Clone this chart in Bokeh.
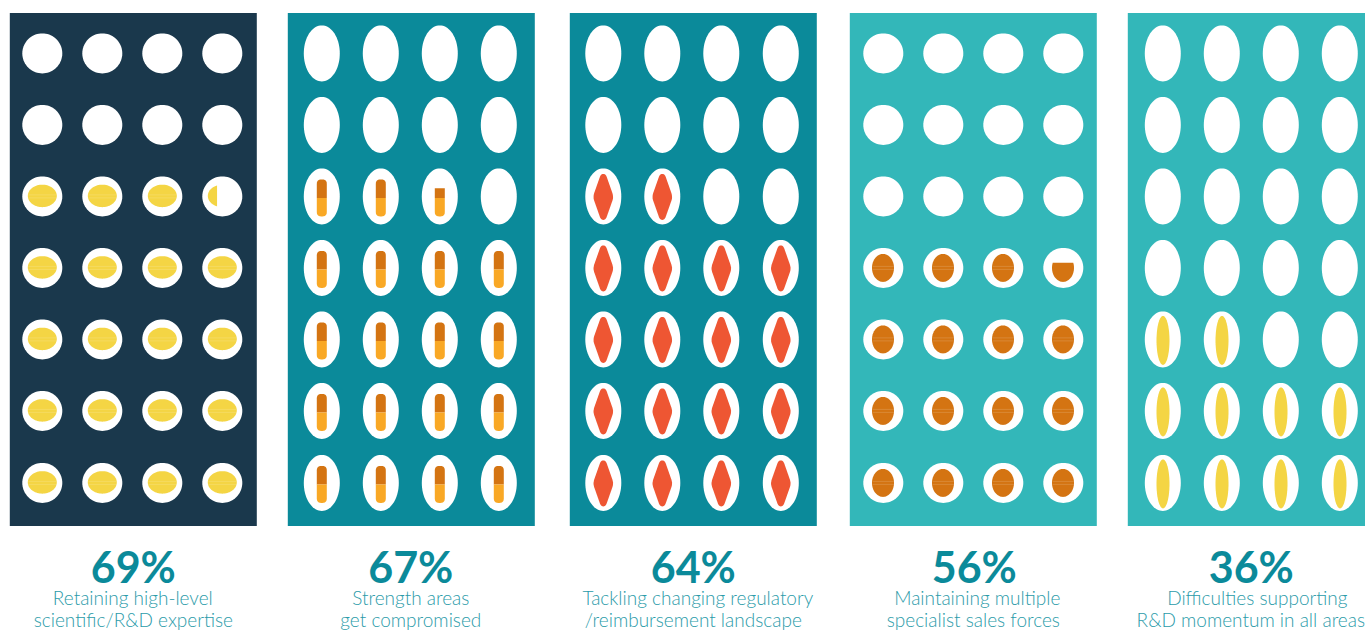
import math
from bokeh.core.properties import value
from bokeh.embed import file_html
from bokeh.models import ColumnDataSource, Range1d
from bokeh.plotting import figure
from bokeh.resources import INLINE

# Survey results, one panel per challenge
percentages = [69, 67, 64, 56, 36]
headlines = ["69%", "67%", "64%", "56%", "36%"]
captions = [
    ["Retaining high-level", "scientific/R&D expertise"],
    ["Strength areas", "get compromised"],
    ["Tackling changing regulatory", "/reimbursement landscape"],
    ["Maintaining multiple", "specialist sales forces"],
    ["Difficulties supporting", "R&D momentum in all areas"],
]
panel_colors = ["#1A384C", "#0B8A9A", "#0B8A9A", "#33B7B9", "#33B7B9"]
icon_kinds = ["wide_oval", "capsule", "diamond", "egg", "slim_oval"]
cut_sides = ["keep_left", "keep_bottom", "keep_bottom", "keep_bottom", "keep_bottom"]

WIDTH, HEIGHT = 1365, 630
ROWS, COLS = 7, 4
PANEL_LEFT = [10, 288, 570, 850, 1128]
PANEL_W, PANEL_TOP, PANEL_BOTTOM = 247, 13, 526
COL_X = [
    [42.5, 102.5, 162.5, 222.5],
    [322, 381, 440, 499],
    [603.5, 662.5, 721.5, 781],
    [883.5, 943.5, 1003.5, 1063.5],
    [1163, 1222, 1281, 1340],
]
ROW_Y = [53.5, 125, 196.5, 268, 339.5, 411, 483]
HEADLINE_X = [133.5, 411, 693.5, 974.5, 1251.5]
CAPTION_X = [
    [133, 411, 698, 977.5, 1257.5],
    [133.5, 411, 693.5, 973.5, 1251],
]

YELLOW, DARK_ORANGE, LIGHT_ORANGE, RED = "#F4D544", "#D47412", "#F9A825", "#EE5633"


def ellipse(cx, cy, w, h, n=72):
    return [(cx + w / 2 * math.cos(2 * math.pi * i / n),
             cy + h / 2 * math.sin(2 * math.pi * i / n)) for i in range(n)]


def rounded(points, r, steps=6):
    """Round each polygon corner with a quadratic curve of reach r."""
    out = []
    n = len(points)
    for i, (x, y) in enumerate(points):
        ax, ay = points[i - 1]
        bx, by = points[(i + 1) % n]
        la, lb = math.hypot(ax - x, ay - y), math.hypot(bx - x, by - y)
        ra, rb = min(r, la / 2), min(r, lb / 2)
        p0 = (x + (ax - x) * ra / la, y + (ay - y) * ra / la)
        p2 = (x + (bx - x) * rb / lb, y + (by - y) * rb / lb)
        for s in range(steps + 1):
            t = s / steps
            out.append(((1 - t) ** 2 * p0[0] + 2 * t * (1 - t) * x + t * t * p2[0],
                        (1 - t) ** 2 * p0[1] + 2 * t * (1 - t) * y + t * t * p2[1]))
    return out


def clip(poly, axis, limit, keep_below):
    """Clip a polygon against one axis-aligned half-plane."""
    inside = (lambda p: p[axis] <= limit) if keep_below else (lambda p: p[axis] >= limit)
    out = []
    for i, cur in enumerate(poly):
        prev = poly[i - 1]
        if inside(cur) != inside(prev):
            t = (limit - prev[axis]) / (cur[axis] - prev[axis])
            out.append((prev[0] + t * (cur[0] - prev[0]), prev[1] + t * (cur[1] - prev[1])))
        if inside(cur):
            out.append(cur)
    return out


def cut(poly, side, frac):
    xs, ys = [p[0] for p in poly], [p[1] for p in poly]
    if side == "keep_left":
        return clip(poly, 0, min(xs) + frac * (max(xs) - min(xs)), True)
    return clip(poly, 1, max(ys) - frac * (max(ys) - min(ys)), False)


def filled_cells(pct):
    """Cells covered out of the grid, with near-whole results shown as whole."""
    cells = pct / 100 * ROWS * COLS
    return round(cells) if abs(cells - round(cells)) < 0.1 else cells


def icon_parts(kind, cx, cy, side, frac):
    """Return (polygon, colour) pieces for the inner icon of one cell."""
    parts = []
    if kind == "wide_oval":
        parts.append((ellipse(cx, cy - 0.5, 29, 22.5), YELLOW))
    elif kind == "egg":
        parts.append((ellipse(cx - 0.3, cy, 22, 28), DARK_ORANGE))
    elif kind == "slim_oval":
        parts.append((ellipse(cx + 0.2, cy + 1, 13, 49), YELLOW))
    elif kind == "diamond":
        blunt = [(cx - 2.4, cy - 22.5), (cx + 2.4, cy - 22.5), (cx + 10.4, cy + 0.5),
                 (cx + 2.4, cy + 23.5), (cx - 2.4, cy + 23.5), (cx - 10.4, cy + 0.5)]
        parts.append((rounded(blunt, 4), RED))
    elif kind == "capsule":
        x0, x1, top, mid, bot = cx - 5, cx + 5, cy - 17, cy + 1.5, cy + 20
        shell = rounded([(x0, top), (x1, top), (x1, bot), (x0, bot)], 4.5)
        if frac < 1:
            shell = cut(shell, side, frac)
        parts.append((clip(shell, 1, mid, True), DARK_ORANGE))
        parts.append((clip(shell, 1, mid, False), LIGHT_ORANGE))
        return parts
    if frac < 1:
        parts = [(cut(poly, side, frac), color) for poly, color in parts]
    return parts


p = figure(width=WIDTH, height=HEIGHT, output_backend="svg", toolbar_location=None,
           x_range=Range1d(0.7, WIDTH + 0.7), y_range=Range1d(HEIGHT + 0.6, 0.6),
           min_border=0, outline_line_color=None, background_fill_color="white",
           border_fill_color="white")
p.axis.visible = False
p.grid.visible = False

# Panel backgrounds
p.quad(left=PANEL_LEFT, right=[x + PANEL_W for x in PANEL_LEFT],
       top=[PANEL_TOP] * 5, bottom=[PANEL_BOTTOM] * 5,
       fill_color=panel_colors, line_color=None)

blank_xs, blank_ys = [], []
icon_xs, icon_ys, icon_colors = [], [], []
seam_xs, seam_ys = [], []

for k, pct in enumerate(percentages):
    cells = filled_cells(pct)
    kind = icon_kinds[k]
    round_cell = kind in ("wide_oval", "egg")
    w, h = (40, 40) if round_cell else (36, 56)
    for r in range(ROWS):
        for c in range(COLS):
            cx, cy = COL_X[k][c], ROW_Y[r]
            outline = ellipse(cx, cy, w, h)
            blank_xs.append([q[0] for q in outline])
            blank_ys.append([q[1] for q in outline])
            # Filling runs from the bottom row upward, left to right
            order = (ROWS - 1 - r) * COLS + c
            frac = min(max(cells - order, 0), 1)
            if frac <= 0:
                continue
            for poly, color in icon_parts(kind, cx, cy, cut_sides[k], frac):
                icon_xs.append([q[0] for q in poly])
                icon_ys.append([q[1] for q in poly])
                icon_colors.append(color)
            # Faint seams across the rounder icons
            if round_cell and frac == 1:
                half = 14 if kind == "wide_oval" else 10.5
                for dy in (-1.5, 1.5):
                    seam_xs.append([cx - half, cx + half])
                    seam_ys.append([cy + dy, cy + dy])

p.patches(blank_xs, blank_ys, fill_color="white", line_color=None)
p.patches("xs", "ys", fill_color="color", line_color=None,
          source=ColumnDataSource(dict(xs=icon_xs, ys=icon_ys, color=icon_colors)))
p.multi_line(seam_xs, seam_ys, line_color="white", line_alpha=0.15, line_width=1)

# Headline figures and two-line captions
p.text(HEADLINE_X, [567] * 5, text=headlines, text_align="center", text_baseline="alphabetic",
       text_font=value("Lato"), text_font_style="bold", text_font_size="43px",
       text_color="#0B8A9A")
for line, base in enumerate((598, 620)):
    p.text(CAPTION_X[line], [base] * 5, text=[c[line] for c in captions],
           text_align="center", text_baseline="alphabetic",
           text_font=value("Lato Light"), text_font_size="19px", text_color="#2B9BA9")

open("out.html", "w").write(file_html(p, INLINE))
